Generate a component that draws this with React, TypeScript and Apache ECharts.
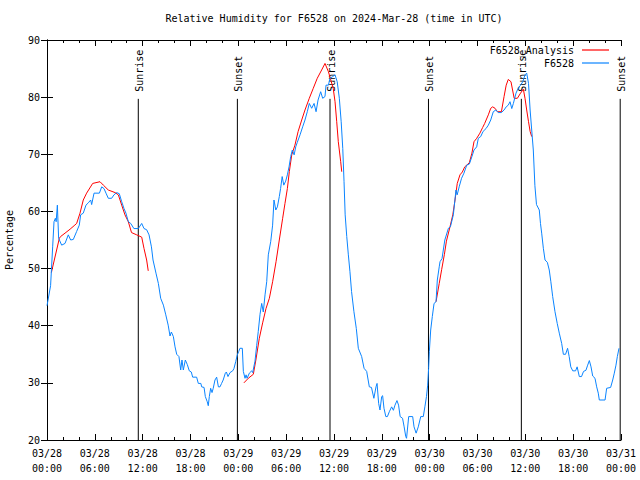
import React, { useEffect, useRef } from 'react';
import * as echarts from 'echarts';

const titleText = 'Relative Humidity for F6528 on 2024-Mar-28 (time in UTC)';
const yAxisName = 'Percentage';

// x axis: hours since 2024-03-28 00:00 UTC
const xTickLabels = [
  '03/28\n00:00', '03/28\n06:00', '03/28\n12:00', '03/28\n18:00',
  '03/29\n00:00', '03/29\n06:00', '03/29\n12:00', '03/29\n18:00',
  '03/30\n00:00', '03/30\n06:00', '03/30\n12:00', '03/30\n18:00',
  '03/31\n00:00',
];

const sunHours = [11.45, 23.88, 35.5, 47.85, 59.5, 71.9];
const sunLabels = ['Sunrise', 'Sunset', 'Sunrise', 'Sunset', 'Sunrise', 'Sunset'];

const stationHours = [
  0, 0.45, 0.71, 0.88, 1.05, 1.15, 1.3, 1.46, 1.84, 2.26, 2.67, 2.97, 3.3, 3.72, 4.05, 4.22, 4.55, 4.89,
  5.18, 5.48, 5.6, 5.9, 6.57, 6.86, 7.15, 7.4, 7.69, 8.11, 8.4, 8.74, 9.07, 9.37, 9.66, 9.9, 10.2, 10.5,
  10.9, 11.45, 11.88, 12.17, 12.5, 12.8, 13.1, 13.3, 13.67, 13.97, 14.26, 14.6, 14.9, 15.2, 15.43, 15.6,
  15.85, 16.06, 16.27, 16.55, 16.77, 16.93, 17.1, 17.35, 17.6, 17.85, 18.1, 18.27, 18.77, 18.98, 19.3,
  19.4, 19.7, 19.86, 20.1, 20.23, 20.36, 20.53, 20.7, 20.85, 21.07, 21.28, 21.5, 21.7, 21.9, 22.1, 22.37,
  22.5, 22.7, 22.96, 23.29, 23.45, 23.67, 23.87, 24.04, 24.2, 24.5, 24.63, 24.84, 24.97, 25.1, 25.38,
  25.67, 25.8, 26.09, 26.3, 26.5, 26.72, 26.93, 27.13, 27.35, 27.56, 27.76, 28.06, 28.3, 28.47, 28.7,
  28.9, 29.14, 29.3, 29.5, 29.7, 29.94, 30.15, 30.36, 30.57, 30.77, 31.0, 31.2, 31.4, 31.74, 32.07,
  32.36, 32.65, 32.9, 33.2, 33.5, 33.75, 34.0, 34.33, 34.58, 34.87, 35.0, 35.3, 35.5, 35.84, 36.13,
  36.4, 36.67, 36.9, 37.1, 37.26, 37.4, 37.6, 37.8, 38.0, 38.2, 38.5, 38.8, 39.05, 39.47, 39.77, 40.1,
  40.43, 40.7, 41.0, 41.27, 41.4, 41.6, 41.77, 41.98, 42.1, 42.27, 42.5, 42.7, 42.94, 43.23, 43.45,
  43.65, 43.9, 44.1, 44.3, 44.6, 44.8, 45.0, 45.1, 45.37, 45.87, 46.04, 46.3, 46.57, 46.88, 47.2, 47.4,
  47.6, 47.75, 47.87, 47.96, 48.13, 48.33, 48.55, 48.8, 48.96, 49.2, 49.3, 49.55, 49.9, 50.35, 50.6,
  50.97, 51.3, 51.45, 51.7, 52.0, 52.3, 52.65, 52.98, 53.3, 53.56, 53.9, 54.1, 54.4, 54.7, 55.07, 55.36,
  55.66, 55.98, 56.3, 56.6, 57.0, 57.33, 57.6, 57.86, 58.08, 58.3, 58.5, 58.83, 59.1, 59.4, 59.68, 59.96,
  60.17, 60.4, 60.6, 60.8, 61.0, 61.2, 61.4, 61.75, 61.9, 62.05, 62.26, 62.47, 62.76, 63.0, 63.2, 63.43,
  63.72, 64.0, 64.26, 64.56, 64.77, 65.05, 65.3, 65.5, 65.7, 65.95, 66.3, 66.5, 66.77, 67.05, 67.3, 67.6,
  67.82, 68.03, 68.24, 68.45, 68.74, 68.95, 69.15, 69.28, 70.0, 70.2, 70.7, 70.96, 71.16, 71.37, 71.54,
  71.75,
];
const stationValues = [
  43.5, 47, 53.8, 58.2, 58.8, 58.2, 61.1, 55.3, 54.1, 54.4, 55.9, 55.0, 55.1, 56.5, 57.6, 59.4, 59.7, 61.1,
  61.5, 62.0, 61.2, 63.2, 63.2, 64.3, 64.0, 63.2, 62.3, 62.3, 62.9, 63.3, 63.1, 61.7, 60.5, 59.7, 58.2, 57.9,
  57.0, 57.0, 57.9, 57.0, 56.8, 55.9, 53.8, 51.5, 49.2, 47.4, 44.8, 43.6, 41.9, 40.1, 38.2, 38.9,
  38.1, 36.3, 35.0, 34.6, 32.25, 34.0, 32.25, 34.0, 33.2, 32.1, 31.9, 31.0, 31.0, 29.9, 29.9,
  29.3, 29.2, 27.6, 26.7, 26.0, 27.6, 29.05, 28.3, 29.05, 30.5, 31.0, 29.3, 29.3, 29.9, 30.5, 31.7,
  31.9, 31.1, 31.8, 32.1, 32.5, 33.7, 34.9, 35.45, 36.05, 36.05, 32.0, 30.8, 31.4, 30.8, 31.7,
  32.1, 31.8, 33.8, 36.5, 39.0, 42.0, 43.9, 42.4, 45.4, 47.7, 52.4, 54.7, 57.6, 62.0, 60.25,
  60.8, 62.6, 64.0, 66.1, 64.6, 65.3, 66.4, 67.8, 69.6, 70.75, 69.9, 71.3, 72.1, 73.4, 74.8,
  76.0, 77.45, 78.9, 78.05, 78.9, 77.45, 79.5, 80.95, 79.8, 80.1, 82.1, 82.1, 83.3, 83.6, 83.9,
  82.7, 79.8, 75.7, 71.0, 65.2, 59.4, 55.6, 52.4, 49.45, 46.0, 42.45, 39.5, 36.05, 34.6, 32.55, 32.0,
  29.3, 29.2, 27.3, 29.3, 29.9, 26.4, 25.25, 27.6, 27.75, 25.55, 24.1, 24.1, 24.95, 25.8, 25.2,
  26.1, 26.9, 26.1, 24.1, 23.8, 22.3, 20.6, 20.3, 24.1, 24.1, 22.3, 21.2, 22.3, 24.1, 24.1, 25.8,
  27.6, 29.6, 32.55, 35.5, 39.25, 41.6, 43.9, 44.2, 48.0, 50.3, 51.2, 51.75, 55.0, 57.05, 57.3,
  59.4, 63.75, 62.9, 64.3, 65.8, 66.7, 68.1, 68.3, 69.6, 70.75, 71.3, 72.8, 73.1, 74.0, 74.5, 75.1,
  76.0, 77.45, 77.75, 77.3, 77.3, 77.75, 78.3, 78.6, 79.2, 78.0, 78.9, 80.7, 81.55, 82.1, 82.7, 83.9,
  84.2, 82.4, 77.75, 74.25, 70.75, 64.5, 61.2, 60.25, 57.9, 56.2, 53.55, 51.5, 51.1, 49.75, 47.7, 45.1,
  42.45, 40.4, 38.7, 36.9, 35.0, 35.0, 36.05, 34.6, 32.8, 32.1, 32.1, 32.8, 31.1, 31.1, 32.0, 32.2,
  33.1, 33.9, 32.8, 31.2, 30.8, 29.3, 28.2, 27.0, 27.0, 29.05, 29.2, 30.5, 31.7, 33.1, 34.6,
  36.05,
];

// null marks a gap in the analysis line
const analysisHours = [
  0.55, 1.55, 1.7, 2.26, 2.9, 3.4, 3.72, 4.14, 4.55, 4.97, 5.73, 6.65, 7.07, 7.69, 8.53, 8.95, 9.37, 9.78,
  10.2, 10.6, 11.25, 11.88, 12.17, 12.5, 12.7,
  18,
  24.7, 25.25, 25.88, 26.2, 26.63, 27.05, 27.47, 27.89, 28.3, 28.73, 29.14, 29.56, 29.85, 30.15, 30.4,
  30.7, 31.1, 31.5, 31.95, 32.36, 32.9, 33.4, 33.9, 34.45, 34.87, 35.3, 35.6, 35.9, 36.13, 36.34, 36.54,
  36.84, 36.97,
  42,
  48.8, 49.2, 49.5, 49.85, 50.1, 50.55, 50.9, 51.18, 51.46, 51.8, 52.1, 52.4, 52.97, 53.3, 53.56, 53.9,
  54.3, 54.65, 54.9, 55.36, 55.66, 55.9, 56.2, 56.5, 57.0, 57.33, 57.6, 57.86, 58.2, 58.4, 58.6, 59.0,
  59.4, 59.75, 59.96, 60.17, 60.4, 60.6, 60.8,
];
const analysisValues = [
  49.3, 55.3, 55.6, 56.2, 56.9, 57.5, 57.9, 59.7, 62.0, 63.2, 64.9, 65.2, 64.6, 63.75, 63.3, 62.9, 61.1, 59.4,
  58.2, 56.3, 55.9, 55.5, 53.5, 51.5, 49.6,
  null,
  30.0, 30.8, 31.5, 34.0, 37.8, 40.5, 43.0, 44.8, 47.7, 51.2, 55.0, 58.8, 61.4, 64.0, 67.0,
  69.9, 71.6, 74.0, 76.0, 77.75, 79.8, 81.55, 83.3, 84.75, 85.9, 84.45, 83.0, 81.55, 79.2, 75.7, 72.2,
  68.7, 66.95,
  null,
  44.2, 47.4, 49.8, 52.5, 54.8, 57.3, 59.4, 62.0, 64.9, 66.4, 66.9, 67.8, 68.5, 70.2, 72.2, 72.8,
  73.7, 74.7, 75.4, 76.9, 78.05, 78.3, 78.05, 77.45, 77.45, 80.1, 82.1, 83.1, 82.7, 81.25, 79.8, 79.8,
  80.7, 81.4, 79.8, 77.75, 75.7, 74.0, 73.1,
];

const FONT = 'DejaVu Sans Mono';

export default function App() {
  const ref = useRef<HTMLDivElement>(null);
  useEffect(() => {
    if (!ref.current) return;
    const chart = echarts.init(ref.current, undefined, { renderer: 'svg' });
    const station = stationHours.map((h, i) => [h, stationValues[i]]);
    const analysis = analysisHours.map((h, i) => [h, analysisValues[i] == null ? '-' : analysisValues[i]]);
    const sunData = sunHours.map((h, i) => [h, i]);

    const tickCommon = {
      axisLine: { show: true, lineStyle: { color: '#000', width: 1 } },
      axisTick: { show: true, inside: true, length: 6, lineStyle: { color: '#000' } },
      splitLine: { show: false },
    };

    chart.setOption({
      animation: false,
      backgroundColor: '#fff',
      textStyle: { fontFamily: FONT },
      title: {
        text: titleText,
        left: 334,
        top: 13,
        padding: 0,
        textAlign: 'center',
        textStyle: { fontFamily: FONT, fontSize: 10, fontWeight: 'normal', color: '#000' },
      },
      legend: {
        data: ['F6528_Analysis', 'F6528'],
        orient: 'vertical',
        right: 31,
        top: 44,
        align: 'right',
        icon: 'rect',
        itemWidth: 27,
        itemHeight: 1.2,
        itemGap: 1,
        padding: 0,
        textStyle: { fontFamily: FONT, fontSize: 10, lineHeight: 12, color: '#000', padding: [0, 3, 0, 0] },
      },
      grid: { left: 47, right: 19, top: 40, bottom: 40, containLabel: false, outerBoundsMode: 'none' },
      xAxis: [
        {
          type: 'value',
          min: 0,
          max: 72,
          interval: 6,
          position: 'bottom',
          ...tickCommon,
          minorTick: { show: true, splitNumber: 3, length: 3, lineStyle: { color: '#000' } },
          axisLabel: {
            show: true,
            showMinLabel: true,
            showMaxLabel: true,
            margin: 6,
            fontFamily: FONT,
            fontSize: 10,
            lineHeight: 15,
            color: '#000',
            formatter: (v: number) => xTickLabels[Math.round(v / 6)] ?? '',
          },
        },
        {
          type: 'value',
          min: 0,
          max: 72,
          interval: 6,
          position: 'top',
          ...tickCommon,
          minorTick: { show: true, splitNumber: 3, length: 3, lineStyle: { color: '#000' } },
          axisLabel: { show: false },
        },
      ],
      yAxis: [
        {
          type: 'value',
          min: 20,
          max: 90,
          interval: 10,
          position: 'left',
          ...tickCommon,
          name: yAxisName,
          nameLocation: 'middle',
          nameRotate: 90,
          nameGap: 33,
          nameTextStyle: { fontFamily: FONT, fontSize: 10, color: '#000' },
          axisLabel: { margin: 7, fontFamily: FONT, fontSize: 10, color: '#000' },
        },
        {
          type: 'value',
          min: 20,
          max: 90,
          interval: 10,
          position: 'right',
          ...tickCommon,
          axisLabel: { show: false },
        },
      ],
      series: [
        {
          type: 'custom',
          name: 'sun',
          xAxisIndex: 0,
          yAxisIndex: 0,
          data: sunData,
          clip: false,
          renderItem: (params: any, api: any) => {
            const h = api.value(0);
            const idx = api.value(1);
            const pb = api.coord([h, 20]);
            const pt = api.coord([h, 79.7]);
            return {
              type: 'group',
              children: [
                {
                  type: 'line',
                  shape: { x1: pb[0], y1: pb[1], x2: pt[0], y2: pt[1] },
                  style: { stroke: '#000', lineWidth: 1 },
                },
                {
                  type: 'text',
                  x: pt[0] + 1,
                  y: pt[1] - 7,
                  rotation: Math.PI / 2,
                  style: {
                    text: sunLabels[idx],
                    fill: '#000',
                    font: `10px "${FONT}"`,
                    align: 'left',
                    verticalAlign: 'middle',
                  },
                },
              ],
            };
          },
        },
        {
          type: 'line',
          name: 'F6528_Analysis',
          data: analysis,
          symbol: 'none',
          connectNulls: false,
          lineStyle: { color: '#ff0000', width: 1 },
          itemStyle: { color: '#ff0000' },
        },
        {
          type: 'line',
          name: 'F6528',
          data: station,
          symbol: 'none',
          lineStyle: { color: '#0a84ff', width: 1 },
          itemStyle: { color: '#0a84ff' },
        },
      ],
    });
    return () => chart.dispose();
  }, []);
  return <div ref={ref} style={{ position: 'fixed', left: 0, top: 0, width: 640, height: 480 }} />;
}
